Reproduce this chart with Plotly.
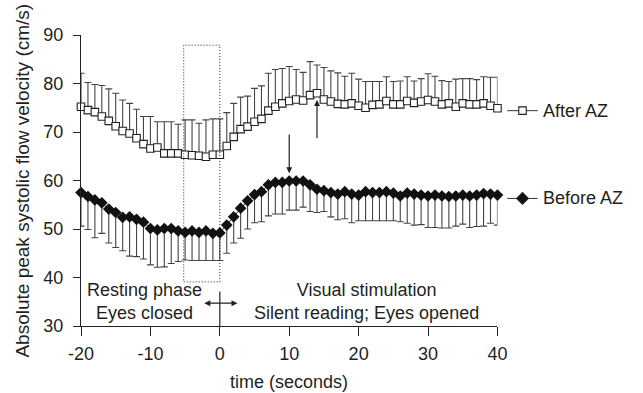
import plotly.graph_objects as go

time_s = list(range(-20, 41))

after_mean = [75.2, 74.5, 74.1, 73.2, 72.3, 71.2, 70.2, 69.7, 68.7, 67.5,
              66.6, 66.8, 65.6, 65.6, 65.6, 65.3, 65.2, 65.1, 64.9, 65.3,
              65.3, 67.1, 69.0, 70.6, 71.1, 72.1, 72.7, 74.4, 75.2, 75.9,
              76.4, 76.7, 76.5, 77.6, 78.0, 76.7, 76.3, 75.8, 75.7, 75.9,
              75.4, 75.0, 75.6, 75.7, 76.4, 75.7, 75.7, 76.4, 76.0, 76.3,
              76.6, 76.3, 75.7, 75.9, 75.2, 75.9, 75.7, 75.7, 75.9, 75.4,
              74.9]
after_upper = [82.1, 80.2, 79.8, 79.6, 78.9, 78.0, 76.6, 75.9, 74.7, 73.2,
               73.2, 72.1, 72.1, 72.1, 71.6, 72.5, 72.5, 71.8, 72.5, 72.7,
               72.7, 74.0, 75.9, 77.2, 77.4, 79.0, 79.5, 82.1, 82.9, 83.1,
               83.5, 82.9, 82.3, 84.5, 83.8, 83.3, 82.6, 82.2, 81.5, 82.1,
               80.9, 80.4, 80.4, 80.4, 81.4, 80.4, 80.5, 81.4, 80.5, 81.0,
               82.0, 81.5, 80.6, 80.4, 80.9, 81.0, 81.0, 80.8, 81.4, 81.3,
               81.3]

before_mean = [57.5, 56.7, 56.0, 55.4, 54.1, 53.4, 52.4, 52.5, 52.0, 51.4,
               50.1, 49.8, 50.1, 50.1, 49.6, 49.3, 49.6, 49.3, 49.6, 49.1,
               49.2, 50.8, 52.5, 54.3, 55.8, 57.1, 57.7, 59.1, 59.6, 59.6,
               59.9, 59.9, 59.9, 59.1, 58.2, 57.9, 57.5, 57.2, 57.7, 57.2,
               57.0, 57.7, 57.5, 57.5, 57.7, 57.4, 56.8, 57.4, 57.2, 57.0,
               56.8, 57.0, 56.8, 56.7, 56.8, 57.0, 56.8, 57.0, 57.3, 57.2,
               57.0]
before_lower = [50.6, 49.9, 48.2, 49.1, 47.1, 46.2, 45.5, 44.4, 44.3, 43.8,
                42.6, 42.1, 42.2, 42.9, 43.3, 43.6, 43.5, 43.5, 43.5, 43.5,
                43.5, 45.0, 47.1, 48.1, 50.0, 51.3, 51.5, 52.7, 53.1, 53.1,
                53.9, 53.9, 54.5, 53.6, 53.4, 53.6, 52.5, 51.9, 52.1, 51.3,
                51.7, 51.7, 51.7, 51.7, 51.7, 51.7, 51.5, 51.2, 50.8, 50.9,
                50.3, 50.3, 50.2, 50.2, 50.6, 51.0, 50.3, 50.5, 50.6, 51.2,
                50.8]

x_ticks = [-20, -10, 0, 10, 20, 30, 40]
y_ticks = [30, 40, 50, 60, 70, 80, 90]
series_names = ["After AZ", "Before AZ"]

FONT = "Liberation Sans, Arial, sans-serif"
TXT = "#231f20"
W, H = 643, 393
ML, MT, MB = 81, 35, 67
plot_w = W - ML
plot_h = H - MT - MB
x_dom_end = (505 - ML) / plot_w

fig = go.Figure()

err_up = [u - m for u, m in zip(after_upper, after_mean)]
err_dn = [m - l for m, l in zip(before_mean, before_lower)]

fig.add_trace(go.Scatter(
    x=time_s, y=before_mean, mode="lines+markers",
    line=dict(color="#333333", width=1),
    marker=dict(symbol="diamond", size=9, color="#111111",
                line=dict(color="#111111", width=0)),
    error_y=dict(type="data", symmetric=False, array=[0] * len(err_dn),
                 arrayminus=err_dn, color="#444444", thickness=1.1, width=3.5),
    showlegend=False, cliponaxis=False))

fig.add_trace(go.Scatter(
    x=time_s, y=after_mean, mode="lines+markers",
    line=dict(color="#333333", width=1),
    marker=dict(symbol="square", size=7.5, color="white",
                line=dict(color="#222222", width=1.1)),
    error_y=dict(type="data", symmetric=False, array=err_up,
                 arrayminus=[0] * len(err_up), color="#444444", thickness=1.1, width=3.5),
    showlegend=False, cliponaxis=False))

# manual legend on a pixel-based overlay axis
leg_y = [74.4, 56.3]
leg_sym = ["square", "diamond"]
leg_fill = ["white", "#111111"]
leg_size = [7.5, 9]
for name, yy, sym, fc, sz in zip(series_names, leg_y, leg_sym, leg_fill, leg_size):
    fig.add_trace(go.Scatter(
        x=[515, 530.5, 546], y=[yy, yy, yy], xaxis="x2", yaxis="y",
        mode="lines", line=dict(color="#333333", width=1), showlegend=False,
        hoverinfo="skip"))
    fig.add_trace(go.Scatter(
        x=[530.5], y=[yy], xaxis="x2", yaxis="y", mode="markers",
        marker=dict(symbol=sym, size=sz, color=fc, line=dict(color="#222222", width=1.1)),
        showlegend=False, hoverinfo="skip"))
    fig.add_annotation(x=549, y=yy, xref="x2", yref="y", text=name,
                       showarrow=False, xanchor="left", yanchor="middle",
                       font=dict(size=18, family=FONT, color=TXT))

shapes = [
    dict(type="rect", xref="x", yref="y", x0=-5.2, x1=0, y0=39.1, y1=87.9,
         line=dict(color="#222222", width=1, dash="1px,2px")),
    dict(type="line", xref="x", yref="y", x0=0, x1=0, y0=30, y1=37.1,
         line=dict(color="#222222", width=1.2)),
]

annotations = [
    dict(x=-2.7, y=76.9, xref="x", yref="y", text="BL<br>aft", showarrow=False,
         font=dict(size=18, family=FONT, color=TXT)),
    dict(x=-2.7, y=54.95, xref="x", yref="y", text="BL<br>bef", showarrow=False,
         font=dict(size=18, family=FONT, color=TXT)),
    dict(x=-10.9, y=35.1, xref="x", yref="y", text="Resting phase<br>Eyes closed",
         showarrow=False, font=dict(size=18, family=FONT, color=TXT)),
    dict(x=21.2, y=35.1, xref="x", yref="y",
         text="Visual stimulation<br>Silent reading; Eyes opened",
         showarrow=False, font=dict(size=18, family=FONT, color=TXT)),
    # arrows
    dict(x=10, y=61.5, ax=10, ay=69.8, xref="x", yref="y", axref="x", ayref="y",
         text="", showarrow=True, arrowhead=2, arrowsize=1, arrowwidth=1.2,
         arrowcolor="#222222"),
    dict(x=14, y=76.6, ax=14, ay=68.4, xref="x", yref="y", axref="x", ayref="y",
         text="", showarrow=True, arrowhead=2, arrowsize=1, arrowwidth=1.2,
         arrowcolor="#222222"),
    dict(x=2.55, y=34.7, ax=-2.45, ay=34.7, xref="x", yref="y", axref="x", ayref="y",
         text="", showarrow=True, arrowhead=2, startarrowhead=2, arrowside="end+start",
         arrowsize=1, arrowwidth=1.2, arrowcolor="#222222"),
    # axis titles
    dict(x=(21 - ML) / plot_w, y=0.5, xref="paper", yref="paper",
         text="Absolute peak systolic flow velocity (cm/s)", textangle=-90,
         showarrow=False, xanchor="center", yanchor="middle",
         font=dict(size=19, family=FONT, color=TXT)),
    dict(x=(293 - ML) / plot_w, y=-(381.5 - (H - MB)) / plot_h, xref="paper", yref="paper",
         text="time (seconds)",
         showarrow=False, xanchor="center", yanchor="middle",
         font=dict(size=18, family=FONT, color=TXT)),
]

fig.update_layout(
    width=W, height=H,
    margin=dict(l=ML, r=0, t=MT, b=MB, pad=0),
    paper_bgcolor="white", plot_bgcolor="white",
    font=dict(family=FONT, size=18, color=TXT),
    xaxis=dict(domain=[0, x_dom_end], range=[-20, 40], tickvals=x_ticks,
               ticktext=[str(v) for v in x_ticks], showgrid=False, zeroline=False,
               showline=True, linecolor="#222222", linewidth=1.2,
               ticks="outside", ticklen=9, tickwidth=1.2, tickcolor="#222222",
               ticklabelstandoff=2,
               tickfont=dict(size=18, family=FONT, color=TXT)),
    xaxis2=dict(domain=[x_dom_end, 1], range=[505, 643], visible=False,
                anchor="y", fixedrange=True),
    yaxis=dict(range=[30, 90], tickvals=y_ticks,
               ticktext=[str(v) for v in y_ticks], showgrid=False, zeroline=False,
               showline=True, linecolor="#222222", linewidth=1.2,
               ticks="outside", ticklen=7, tickwidth=1.2, tickcolor="#222222",
               ticklabelstandoff=6,
               tickfont=dict(size=18, family=FONT, color=TXT)),
    shapes=shapes, annotations=annotations,
)

fig.write_html("out.html")
